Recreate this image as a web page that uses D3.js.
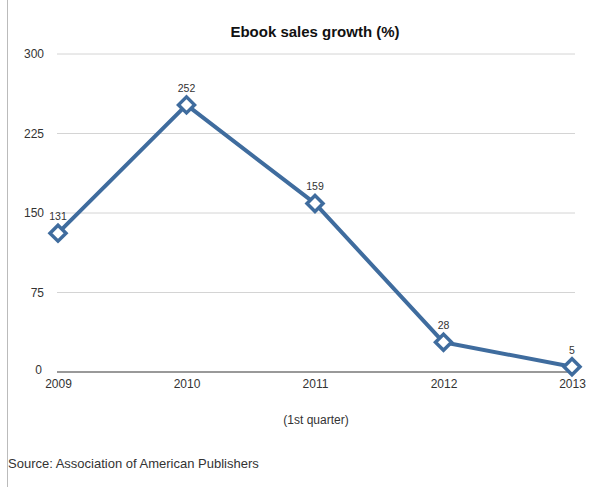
<!DOCTYPE html>
<html><head><meta charset="utf-8">
<script src="https://cdn.jsdelivr.net/npm/d3@7"></script>
<style>body{margin:0;background:#fff}svg{display:block}</style>
</head><body>
<script>
const years = ["2009","2010","2011","2012","2013"];
const growth = [131, 252, 159, 28, 5];
const yTicks = [0, 75, 150, 225, 300];
const title = "Ebook sales growth (%)";
const xTitle = "(1st quarter)";
const source = "Source: Association of American Publishers";

const W = 607, H = 487;
const svg = d3.select("body").append("svg").attr("width", W).attr("height", H);
const font = "Helvetica, Arial, 'Liberation Sans', sans-serif";

svg.append("line").attr("x1", 7.5).attr("x2", 7.5).attr("y1", 0).attr("y2", H)
  .attr("stroke", "#bbb").attr("stroke-width", 1);

const x = d3.scalePoint().domain(years).range([58, 572]);
const y = d3.scaleLinear().domain([0, 300]).range([372, 54]);

// grid
svg.append("g").selectAll("line").data(yTicks).join("line")
  .attr("x1", 57).attr("x2", 575)
  .attr("y1", d => y(d)).attr("y2", d => y(d))
  .attr("stroke", d => d === 0 ? "#999" : "#d4d4d4")
  .attr("stroke-width", d => d === 0 ? 2 : 1);

// y axis labels
const yAxis = d3.axisLeft(y).tickValues(yTicks).tickSize(0).tickPadding(0);
const gy = svg.append("g").attr("transform", "translate(44,0)").call(yAxis);
gy.select(".domain").remove();
gy.selectAll("text").attr("font-family", font).attr("font-size", 12).attr("fill", "#333");
gy.selectAll(".tick").filter(d => d === 0).select("text").attr("dy", "0.1em").attr("x", -2);

// x axis labels
const xAxis = d3.axisBottom(x).tickSize(0).tickPadding(0);
const gx = svg.append("g").attr("transform", "translate(0,379)").call(xAxis);
gx.select(".domain").remove();
gx.selectAll("text").attr("font-family", font).attr("font-size", 12).attr("fill", "#333");

// title
svg.append("text").attr("x", 315).attr("y", 37).attr("text-anchor", "middle")
  .attr("font-family", font).attr("font-size", 15).attr("font-weight", "bold").attr("fill", "#111")
  .text(title);

svg.append("text").attr("x", 316).attr("y", 424).attr("text-anchor", "middle")
  .attr("font-family", font).attr("font-size", 12).attr("fill", "#333").text(xTitle);

svg.append("text").attr("x", 8).attr("y", 468)
  .attr("font-family", font).attr("font-size", 13).attr("fill", "#333").text(source);

// line
const data = years.map((yr, i) => ({yr, v: growth[i]}));
const color = "#3f6c9e";
svg.append("path").datum(data)
  .attr("d", d3.line().x(d => x(d.yr)).y(d => y(d.v)))
  .attr("fill", "none").attr("stroke", color).attr("stroke-width", 4).attr("stroke-linejoin", "round");

// markers
svg.append("g").selectAll("path").data(data).join("path")
  .attr("transform", d => `translate(${x(d.yr)},${y(d.v)})`)
  .attr("d", "M0,-8L8,0L0,8L-8,0Z")
  .attr("fill", "#fff").attr("stroke", color).attr("stroke-width", 3.5);

// value labels
svg.append("g").selectAll("text").data(data).join("text")
  .attr("x", d => x(d.yr))
  .attr("y", d => y(d.v) - 13)
  .attr("text-anchor", "middle")
  .attr("font-family", font).attr("font-size", 10.5).attr("fill", "#333")
  .text(d => d.v);
</script>
</body></html>
